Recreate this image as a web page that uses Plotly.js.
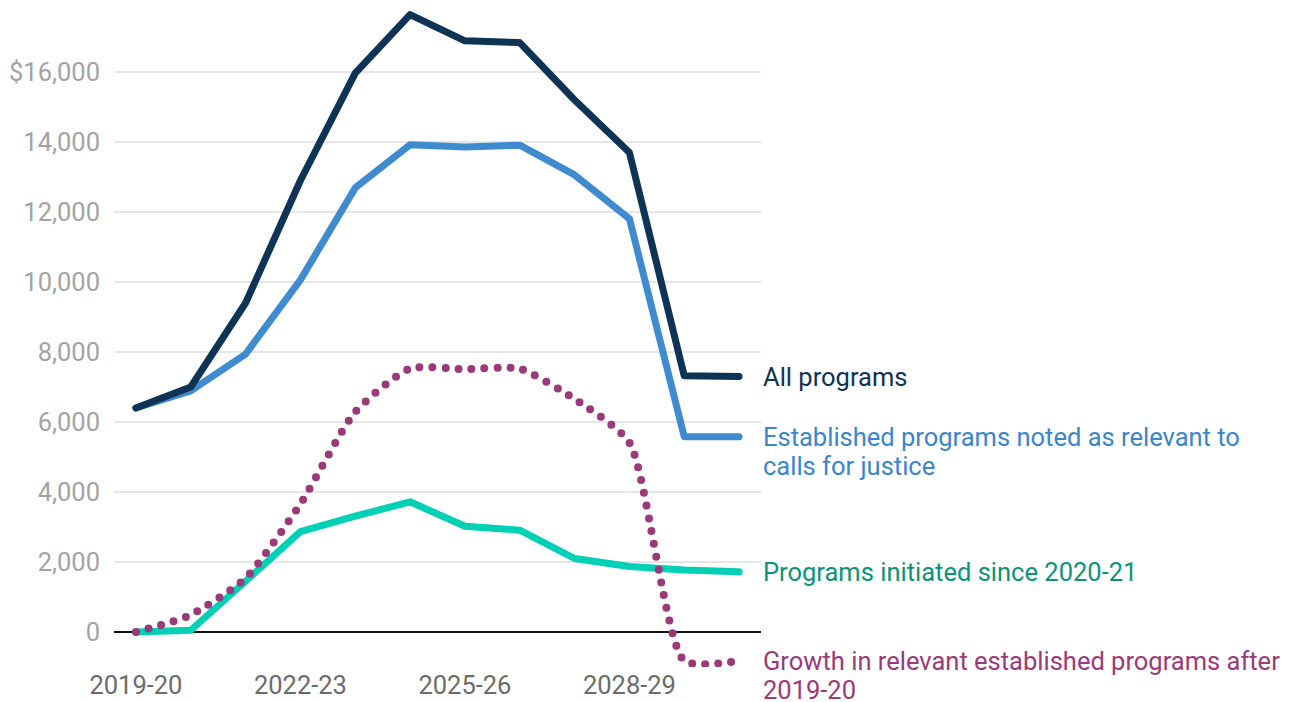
<!DOCTYPE html>
<html>
<head>
<meta charset="utf-8">
<script src="https://cdn.plot.ly/plotly-3.0.1.min.js"></script>
<style>
  html, body { margin: 0; padding: 0; background: #fff; }
  #chart { width: 1296px; height: 702px; }
</style>
</head>
<body>
<div id="chart"></div>
<script>
const years = ['2019-20','2020-21','2021-22','2022-23','2023-24','2024-25','2025-26','2026-27','2027-28','2028-29','2029-30','2030-31'];
const allPrograms = [6400, 7000, 9400, 12900, 15970, 17640, 16890, 16840, 15200, 13700, 7320, 7300];
const establishedRelevant = [6400, 6890, 7940, 10060, 12690, 13920, 13860, 13910, 13060, 11810, 5580, 5580];
const initiatedSince = [0, 50, 1450, 2870, 3310, 3720, 3020, 2910, 2100, 1870, 1770, 1720];
const growthEstablished = [0, 490, 1540, 3660, 6290, 7530, 7510, 7520, 6660, 5410, -820, -820];

const xTickVals = ['2019-20','2022-23','2025-26','2028-29'];
const yTickVals = [0, 2000, 4000, 6000, 8000, 10000, 12000, 14000, 16000];
const yTickText = ['0','2,000','4,000','6,000','8,000','10,000','12,000','14,000','$16,000'];

const labels = [
  {lines: ['All programs'], y: allPrograms[11], color: '#0f3354'},
  {lines: ['Established programs noted as relevant to', 'calls for justice'], y: establishedRelevant[11], color: '#3a86cc'},
  {lines: ['Programs initiated since 2020-21'], y: initiatedSince[11], color: '#0a9479'},
  {lines: ['Growth in relevant established programs after', '2019-20'], y: growthEstablished[11], color: '#9b3a78'}
];

const traces = [
  {x: years, y: establishedRelevant, type: 'scatter', mode: 'lines', name: 'Established', line: {color: '#3f8bd0', width: 7}},
  {x: years, y: allPrograms, type: 'scatter', mode: 'lines', name: 'All', line: {color: '#0f3354', width: 7}},
  {x: years, y: initiatedSince, type: 'scatter', mode: 'lines', name: 'Initiated', line: {color: '#00d0b5', width: 7}},
  {x: years, y: growthEstablished, type: 'scatter', mode: 'lines', name: 'Growth', line: {color: '#9b3a78', width: 8, dash: 'dot', shape: 'spline', smoothing: 0.6}}
];

const annotations = [];
labels.forEach(l => {
  l.lines.forEach((t, k) => {
    annotations.push({
      xref: 'paper', yref: 'y', x: 1, y: l.y, xanchor: 'left', yanchor: 'middle',
      xshift: 0, yshift: -29 * k,
      text: t, showarrow: false, align: 'left',
      font: {family: 'Roboto', size: 25.5, color: l.color}
    });
  });
});

const layout = {
  width: 1296, height: 702,
  margin: {l: 114, r: 535, t: 2, b: 35},
  paper_bgcolor: '#ffffff', plot_bgcolor: '#ffffff',
  showlegend: false,
  font: {family: 'Roboto', size: 25.5},
  xaxis: {
    type: 'category', range: [-0.4, 11.4],
    tickmode: 'array', tickvals: xTickVals, ticktext: xTickVals,
    showgrid: false, zeroline: false, showline: false, ticks: '',
    tickfont: {family: 'Roboto', size: 25.5, color: '#6b6b6b'}
  },
  yaxis: {
    range: [-1000, 18000],
    tickmode: 'array', tickvals: yTickVals, ticktext: yTickText,
    showgrid: true, gridcolor: '#e6e6e6', gridwidth: 1.5,
    zeroline: true, zerolinecolor: '#111111', zerolinewidth: 2,
    showline: false, ticks: '', ticklabelstandoff: 13,
    tickfont: {family: 'Roboto', size: 25.5, color: '#a3a3a3'}
  },
  annotations: annotations
};

Plotly.newPlot('chart', traces, layout, {staticPlot: true, displayModeBar: false}).then(gd => {
  const paths = gd.querySelectorAll('.scatterlayer .trace path.js-line');
  paths.forEach((p, i) => {
    p.style.setProperty('stroke-linecap', 'round');
    p.style.setProperty('stroke-linejoin', 'round');
    if (i === 3) p.style.setProperty('stroke-dasharray', '0px,13px');
  });
});
</script>
</body>
</html>
